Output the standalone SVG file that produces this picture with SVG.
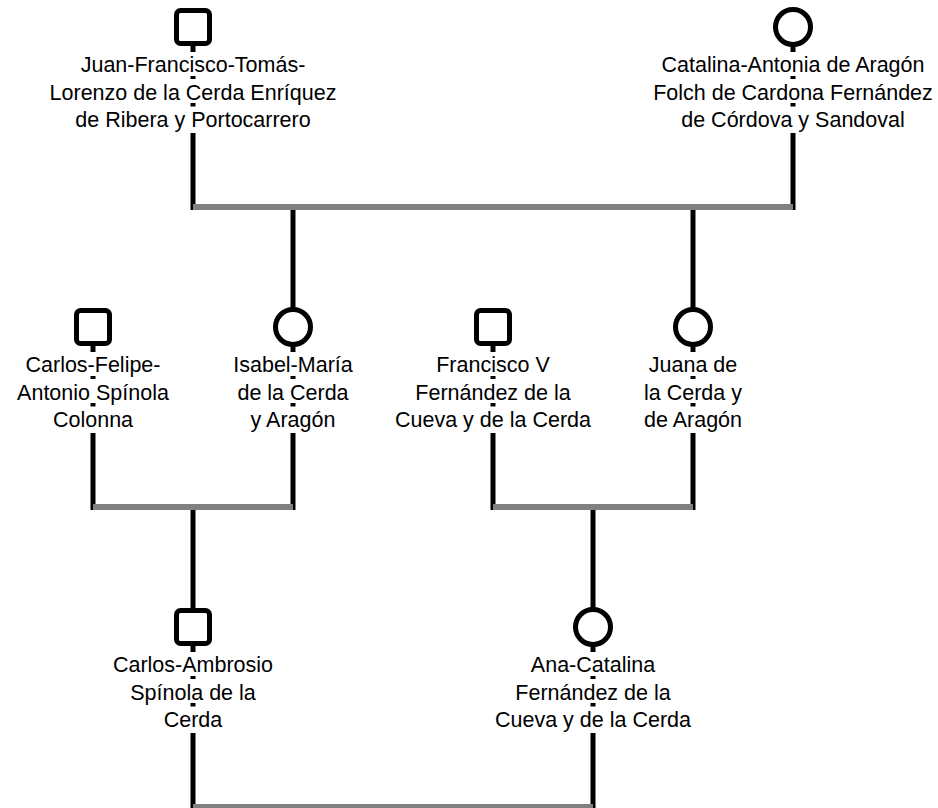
<svg xmlns="http://www.w3.org/2000/svg" width="938" height="808" viewBox="0 0 938 808">
<style>
.bg{fill:#ffffff}
.ln{fill:none;stroke:#000;stroke-width:5}
.bar{fill:none;stroke:#808080;stroke-width:6}
.m{fill:#fff;stroke:#000;stroke-width:5}
.t{font-family:"Liberation Sans",Arial,sans-serif;font-size:21.5px;fill:#000;text-anchor:middle}
</style>
<rect class="bg" x="0" y="0" width="938" height="808"/>
<g id="connectors">
  <path class="ln" d="M193 27V52M193 76V79M193 103V106.5M193 133V210"/>
  <path class="ln" d="M793 27V52M793 76V79M793 103V106.5M793 133V210"/>
  <path class="ln" d="M93 327V352M93 376V379M93 403V406.5M93 433V510"/>
  <path class="ln" d="M293 327V352M293 376V379M293 403V406.5M293 433V510"/>
  <path class="ln" d="M493 327V352M493 376V379M493 403V406.5M493 433V510"/>
  <path class="ln" d="M693 327V352M693 376V379M693 403V406.5M693 433V510"/>
  <path class="ln" d="M193 627V652M193 676V679M193 703V706.5M193 733V810"/>
  <path class="ln" d="M593 627V652M593 676V679M593 703V706.5M593 733V810"/>
  <path class="bar" d="M193 207H793"/>
  <path class="bar" d="M93 507H293"/>
  <path class="bar" d="M493 507H693"/>
  <path class="bar" d="M193 807H593"/>
  <path class="ln" d="M293 210V327"/>
  <path class="ln" d="M693 210V327"/>
  <path class="ln" d="M193 510V627"/>
  <path class="ln" d="M593 510V627"/>
</g>
<g id="juan">
  <rect class="m" x="176.5" y="10.5" width="33" height="33" rx="4"/>
  <text class="t" x="193" y="72">Juan-Francisco-Tomás-</text>
  <text class="t" x="193" y="100">Lorenzo de la Cerda Enríquez</text>
  <text class="t" x="193" y="127">de Ribera y Portocarrero</text>
</g>
<g id="catalina">
  <circle class="m" cx="793" cy="27" r="17.5"/>
  <text class="t" x="793" y="72">Catalina-Antonia de Aragón</text>
  <text class="t" x="793" y="100">Folch de Cardona Fernández</text>
  <text class="t" x="793" y="127">de Córdova y Sandoval</text>
</g>
<g id="carlos-felipe">
  <rect class="m" x="76.5" y="310.5" width="33" height="33" rx="4"/>
  <text class="t" x="93" y="372">Carlos-Felipe-</text>
  <text class="t" x="93" y="400">Antonio Spínola</text>
  <text class="t" x="93" y="427">Colonna</text>
</g>
<g id="isabel">
  <circle class="m" cx="293" cy="327" r="17.5"/>
  <text class="t" x="293" y="372">Isabel-María</text>
  <text class="t" x="293" y="400">de la Cerda</text>
  <text class="t" x="293" y="427">y Aragón</text>
</g>
<g id="francisco">
  <rect class="m" x="476.5" y="310.5" width="33" height="33" rx="4"/>
  <text class="t" x="493" y="372">Francisco V</text>
  <text class="t" x="493" y="400">Fernández de la</text>
  <text class="t" x="493" y="427">Cueva y de la Cerda</text>
</g>
<g id="juana">
  <circle class="m" cx="693" cy="327" r="17.5"/>
  <text class="t" x="693" y="372">Juana de</text>
  <text class="t" x="693" y="400">la Cerda y</text>
  <text class="t" x="693" y="427">de Aragón</text>
</g>
<g id="carlos-ambrosio">
  <rect class="m" x="176.5" y="610.5" width="33" height="33" rx="4"/>
  <text class="t" x="193" y="672">Carlos-Ambrosio</text>
  <text class="t" x="193" y="700">Spínola de la</text>
  <text class="t" x="193" y="727">Cerda</text>
</g>
<g id="ana-catalina">
  <circle class="m" cx="593" cy="627" r="17.5"/>
  <text class="t" x="593" y="672">Ana-Catalina</text>
  <text class="t" x="593" y="700">Fernández de la</text>
  <text class="t" x="593" y="727">Cueva y de la Cerda</text>
</g>
</svg>
